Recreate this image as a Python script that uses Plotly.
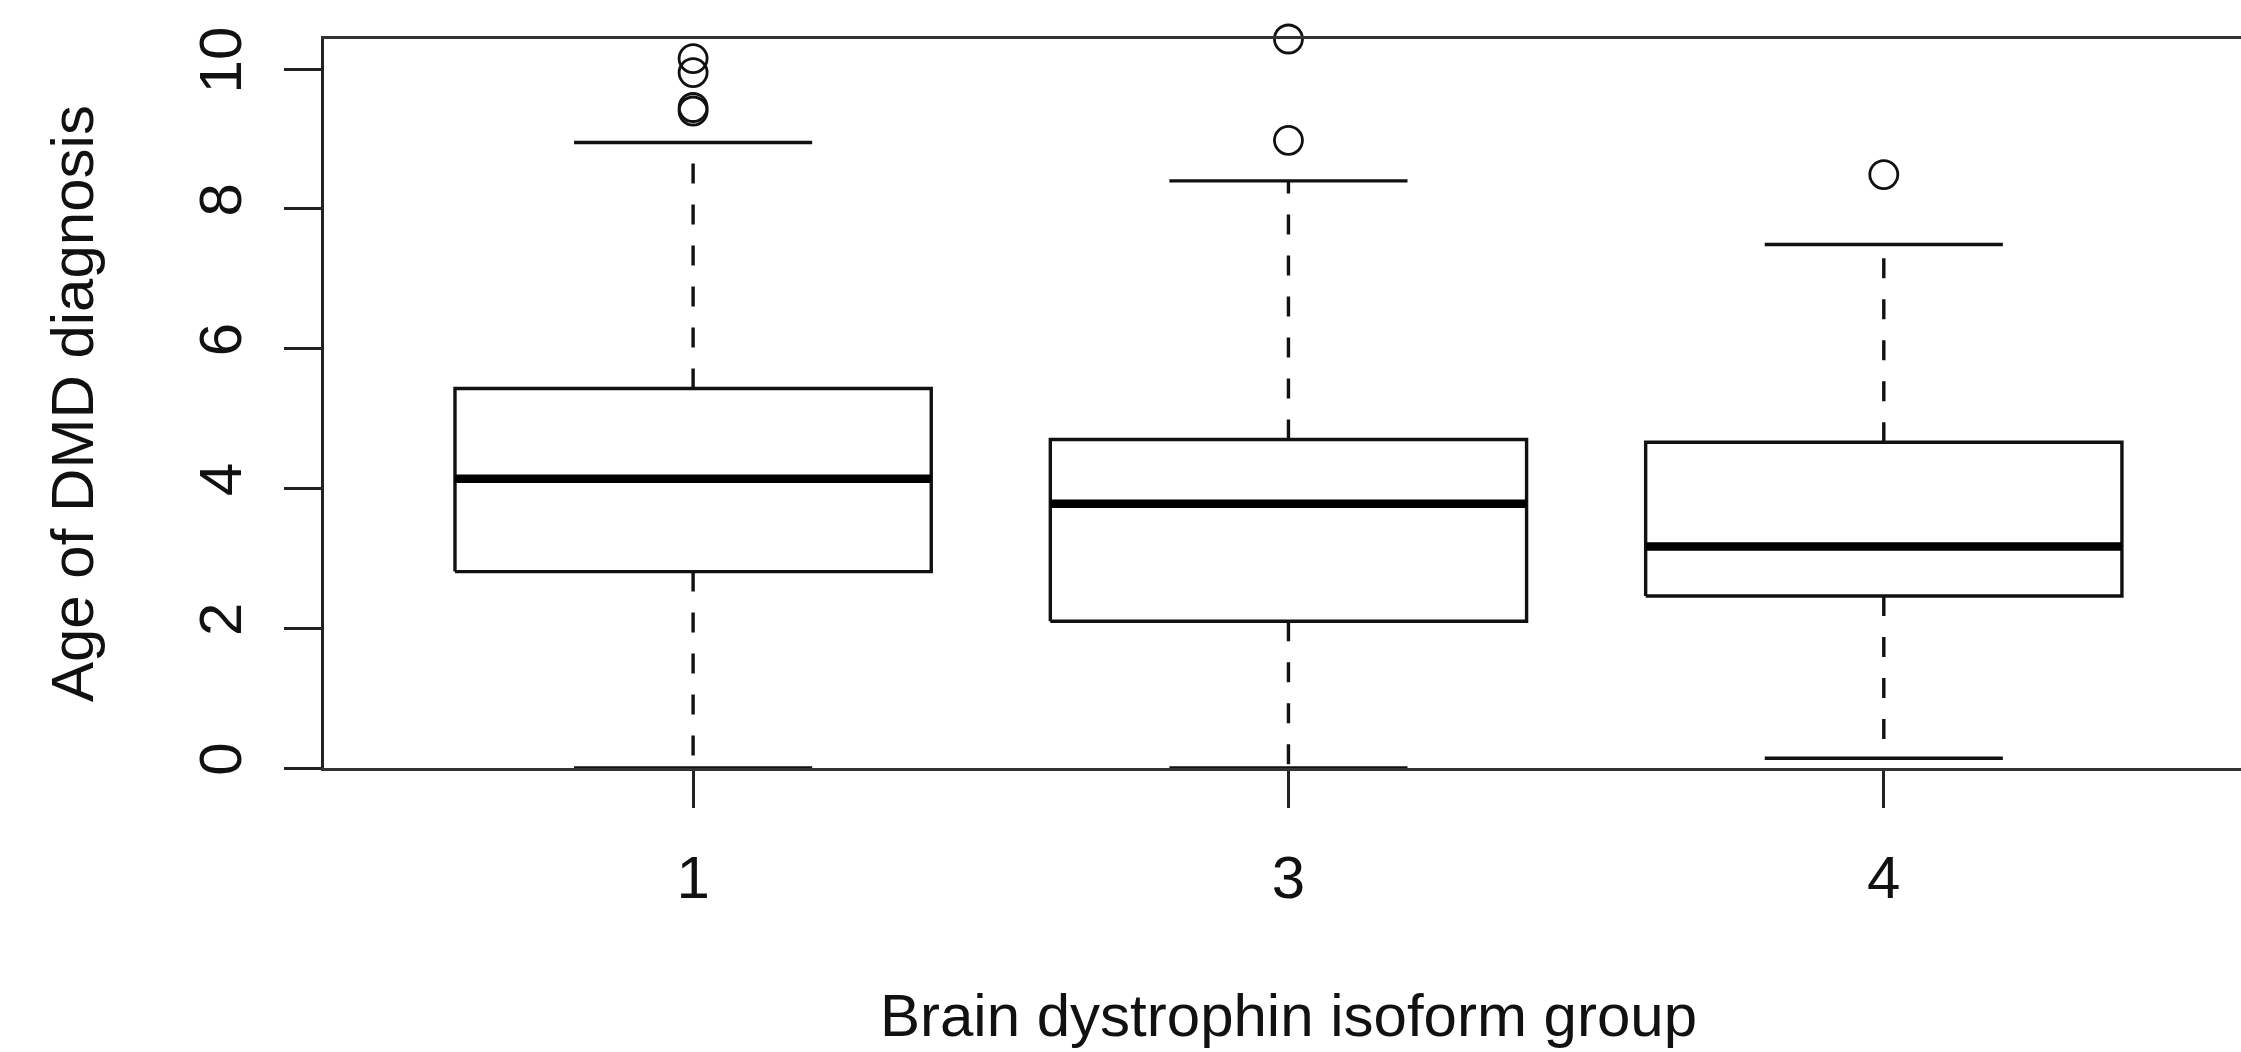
import plotly.graph_objects as go

# Age at DMD diagnosis by brain dystrophin isoform group (box summaries)
groups = ["1", "3", "4"]
q1 = [2.81, 2.10, 2.46]
median = [4.14, 3.78, 3.17]
q3 = [5.43, 4.70, 4.66]
whisker_low = [0.0, 0.0, 0.14]
whisker_high = [8.95, 8.40, 7.49]

# points beyond the whiskers
outlier_group = ["1", "1", "1", "1", "3", "3", "4"]
outlier_age = [10.15, 9.95, 9.45, 9.40, 10.43, 8.98, 8.49]

y_ticks = [0, 2, 4, 6, 8, 10]

FONT = "Liberation Sans, Arial, Helvetica, sans-serif"
INK = "#111111"
BOX_HALF = 0.4
CAP_HALF = 0.2
LW = 3.4

W, H = 2241, 1052
M_L, M_R, M_T, M_B = 323.5, 0, 39, 283.5

pos = {g: i + 1 for i, g in enumerate(groups)}

fig = go.Figure()

for i, g in enumerate(groups):
    x = pos[g]
    # box outline
    fig.add_trace(go.Scatter(
        x=[x - BOX_HALF, x + BOX_HALF, x + BOX_HALF, x - BOX_HALF, x - BOX_HALF],
        y=[q1[i], q1[i], q3[i], q3[i], q1[i]],
        mode="lines", line=dict(color=INK, width=LW), hoverinfo="skip"))
    # median bar
    fig.add_trace(go.Scatter(
        x=[x - BOX_HALF, x + BOX_HALF], y=[median[i], median[i]],
        mode="lines", line=dict(color="#000000", width=8.5), hoverinfo="skip"))
    # dashed whiskers
    fig.add_trace(go.Scatter(
        x=[x, x, None, x, x],
        y=[q3[i], whisker_high[i], None, q1[i], whisker_low[i]],
        mode="lines", line=dict(color=INK, width=LW, dash="20px,21px"),
        hoverinfo="skip"))
    # whisker caps
    fig.add_trace(go.Scatter(
        x=[x - CAP_HALF, x + CAP_HALF, None, x - CAP_HALF, x + CAP_HALF],
        y=[whisker_high[i], whisker_high[i], None, whisker_low[i], whisker_low[i]],
        mode="lines", line=dict(color=INK, width=LW), hoverinfo="skip"))

fig.add_trace(go.Scatter(
    x=[pos[g] for g in outlier_group], y=outlier_age,
    mode="markers", cliponaxis=False,
    marker=dict(symbol="circle-open", size=28, color=INK,
                line=dict(color=INK, width=2.8)),
    hoverinfo="skip"))

plot_w = W - M_L - M_R
plot_h = H - M_T - M_B

fig.update_layout(
    width=W, height=H,
    margin=dict(l=M_L, r=M_R, t=M_T, b=M_B, pad=0),
    paper_bgcolor="white", plot_bgcolor="white",
    showlegend=False,
    font=dict(family=FONT, size=60, color="#111111"),
    xaxis=dict(
        range=[0.38, 3.6], tickmode="array",
        tickvals=[pos[g] for g in groups], ticktext=groups,
        ticks="outside", ticklen=37, tickwidth=LW, tickcolor="#222222",
        showline=True, mirror=True, linecolor="#333333", linewidth=LW,
        showgrid=False, zeroline=False,
        tickfont=dict(family=FONT, size=60, color="#111111"),
        ticklabelstandoff=18,
    ),
    yaxis=dict(
        range=[0, 10.43], tickmode="array", tickvals=y_ticks,
        ticks="outside", ticklen=37, tickwidth=LW, tickcolor="#222222",
        tickangle=-90,
        showline=True, mirror=False, linecolor="#222222", linewidth=LW,
        showgrid=False, zeroline=False,
        tickfont=dict(family=FONT, size=60, color="#111111"),
        ticklabelstandoff=19,
    ),
    annotations=[
        dict(text="Age of DMD diagnosis", xref="paper", yref="paper",
             x=(72 - M_L) / plot_w, y=0.5, textangle=-90,
             xanchor="center", yanchor="middle", showarrow=False,
             font=dict(family=FONT, size=60, color="#111111")),
        dict(text="Brain dystrophin isoform group", xref="paper", yref="paper",
             x=(1288 - M_L) / plot_w, y=-(1016 - (H - M_B)) / plot_h,
             xanchor="center", yanchor="middle", showarrow=False,
             font=dict(family=FONT, size=60, color="#111111")),
    ],
)

fig.write_html("out.html")
